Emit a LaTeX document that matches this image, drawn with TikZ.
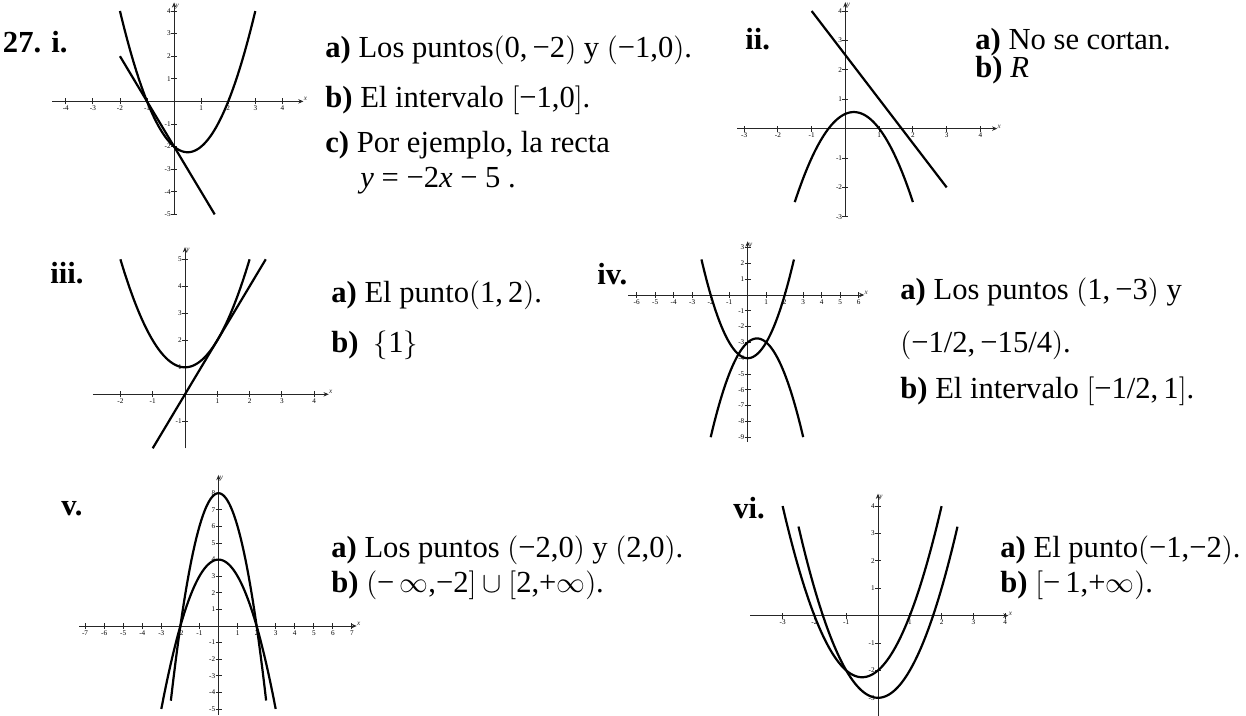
\documentclass[tikz,border=0pt]{standalone}
\usepackage{fontspec}
\setmainfont{Liberation Serif}
\usetikzlibrary{arrows.meta}
\tikzset{
  >={Stealth[length=2.6pt,width=2.2pt]},
  eje/.style={black!85, line width=0.45pt},
  curva/.style={black, line width=1.1pt, line join=round, samples=80, smooth},
  etiq/.style={font=\fontsize{3.6}{4}\selectfont, inner sep=0.5pt},
  texto/.style={font=\fontsize{15.3}{18}\selectfont, anchor=base west, inner sep=0pt},
  numero/.style={font=\fontsize{15.3}{18}\selectfont\bfseries, inner sep=0pt},
}
% big delimiters round plain text
\newcommand{\parent}[1]{\ensuremath{\bigl(}#1\ensuremath{\bigr)}}
\newcommand{\corch}[1]{\ensuremath{\bigl[}#1\ensuremath{\bigr]}}
\newcommand{\llave}[1]{\ensuremath{\bigl\{}#1\ensuremath{\bigr\}}}
% axes: prefix, xmin, xmax, ymin, ymax, x ticks, y ticks
\newcommand{\ejes}[7]{%
  \draw[eje,->] (#2,0) -- (#3,0) node[etiq,above right=-0.5pt] (#1x) {\textit{x}};
  \draw[eje,->] (0,#4) -- (0,#5) node[etiq,anchor=north west] (#1y) {\textit{y}};
  \foreach \t [count=\k] in {#6} {
    \draw[eje] (\t,0) +(0,-1.5pt) -- +(0,1.5pt);
    \node[etiq,below=1.5pt] (#1tx\k) at (\t,0) {\t};
  }
  \foreach \t [count=\k] in {#7} {
    \draw[eje] (0,\t) +(-1.5pt,0) -- +(1.5pt,0);
    \node[etiq,left=1pt] (#1ty\k) at (0,\t) {\t};
  }
}
\begin{document}
\begin{tikzpicture}[x=0.5pt,y=-0.5pt]
  \useasboundingbox (0,0) rectangle (1246,716);

  % --- i ---
  \node[numero, anchor=base east] (ni) at (68,53) {27. i.};
  \begin{scope}[shift={(174.1,101.4)}, x=13.535pt, y=11.3pt]
    \ejes{gi}{-4.5}{4.78}{-5}{4.38}{-4,-3,-2,-1,1,2,3,4}{-5,-4,-3,-2,-1,1,2,3,4}
    \draw[curva, domain=-2:3] plot (\x, {\x*\x-\x-2});
    \draw[curva] (-2,2) -- (1.5,-5);
  \end{scope}
  \node[texto] (ia) at (325,58) {\textbf{a)} Los puntos\parent{0,\,−2} y \parent{−1,0}.};
  \node[texto] (ib) at (325,108) {\textbf{b)} El intervalo \corch{−1,0}.};
  \node[texto] (ic) at (325,153) {\textbf{c)} Por ejemplo, la recta};
  \node[texto] (id) at (360,188) {\textit{y} = −2\textit{x} − 5 .};

  % --- ii ---
  \node[numero, anchor=base west] (nii) at (745,50) {ii.};
  \begin{scope}[shift={(845.4,128.6)}, x=16.875pt, y=14.7pt]
    \ejes{gii}{-3.2}{4.5}{-3}{4.3}{-3,-2,-1,1,2,3,4}{-3,-2,-1,1,2,3,4}
    \draw[curva, domain=-1.5:2] plot (\x, {-\x*\x+0.5*\x+0.5});
    \draw[curva] (-1,4) -- (3,-2);
  \end{scope}
  \node[texto] (iia) at (975,50) {\textbf{a)} No se cortan.};
  \node[texto] (iib) at (975,78) {\textbf{b)} \textit{R}};

  % --- iii ---
  \node[numero, anchor=base east] (niii) at (84,284) {iii.};
  \begin{scope}[shift={(185,394.3)}, x=16.15pt, y=13.5pt]
    \ejes{giii}{-2.85}{4.45}{-2}{5.45}{-2,-1,1,2,3,4}{-1,1,2,3,4,5}
    \draw[curva, domain=-2:2] plot (\x, {\x*\x+1});
    \draw[curva] (-1,-2) -- (2.5,5);
  \end{scope}
  \node[texto] (iiia) at (331,303) {\textbf{a)} El punto\parent{1,\,2}.};
  \node[texto] (iiib) at (331,352) {\textbf{b)}\ \ \llave{1}};

  % --- iv ---
  \node[numero, anchor=base west] (niv) at (597,285) {iv.};
  \begin{scope}[shift={(747.7,295)}, x=9.25pt, y=7.9pt]
    \ejes{giv}{-6.45}{6.3}{-9.3}{3.4}{-6,-5,-4,-3,-2,-1,1,2,3,4,5,6}{-9,-8,-7,-6,-5,-4,-3,-2,-1,1,2,3}
    \draw[curva, domain=-2.5:2.5] plot (\x, {\x*\x-4});
    \draw[curva, domain=-2:3] plot (\x, {-\x*\x+\x-3});
  \end{scope}
  \node[texto] (iva) at (900,300) {\textbf{a)} Los puntos \parent{1,\,−3} y};
  \node[texto] (ivb) at (900,352) {\parent{−1/2,\,−15/4}.};
  \node[texto] (ivc) at (900,398) {\textbf{b)} El intervalo \corch{−1/2,\,1}.};

  % --- v ---
  \node[numero, anchor=base east] (nv) at (83,515) {v.};
  \begin{scope}[shift={(218.5,626)}, x=9.53pt, y=8.3pt]
    \ejes{gv}{-7.3}{7.25}{-5.35}{9.1}{-7,-6,-5,-4,-3,-2,-1,1,2,3,4,5,6,7}{-5,-4,-3,-2,-1,1,2,3,4,5,6,7,8}
    \draw[curva, domain=-2.5:2.5] plot (\x, {-2*\x*\x+8});
    \draw[curva, domain=-3:3] plot (\x, {-\x*\x+4});
  \end{scope}
  \node[texto] (va) at (331,557) {\textbf{a)} Los puntos \parent{−2,0} y \parent{2,0}.};
  \node[texto] (vb) at (331,592) {\textbf{b)} \parent{−\,$\infty$,−2\ensuremath{\bigr]\cup\bigl[}2,+$\infty$}.};

  % --- vi ---
  \node[numero, anchor=base west] (nvi) at (733,518) {vi.};
  \begin{scope}[shift={(878,615.6)}, x=15.9pt, y=13.7pt]
    \ejes{gvi}{-4.02}{4.1}{-3.67}{4.45}{-3,-2,-1,1,2,3,4}{-3,-2,-1,1,2,3,4}
    \draw[curva, domain=-3:2] plot (\x, {\x*\x+\x-2});
    \draw[curva, domain=-2.5:2.5] plot (\x, {\x*\x-3});
  \end{scope}
  \node[texto] (via) at (1000,557) {\textbf{a)} El punto\parent{−1,−2}.};
  \node[texto] (vib) at (1000,592) {\textbf{b)} \ensuremath{\bigl[}−\,1,+$\infty$\ensuremath{\bigr)}.};
\end{tikzpicture}
\end{document}
